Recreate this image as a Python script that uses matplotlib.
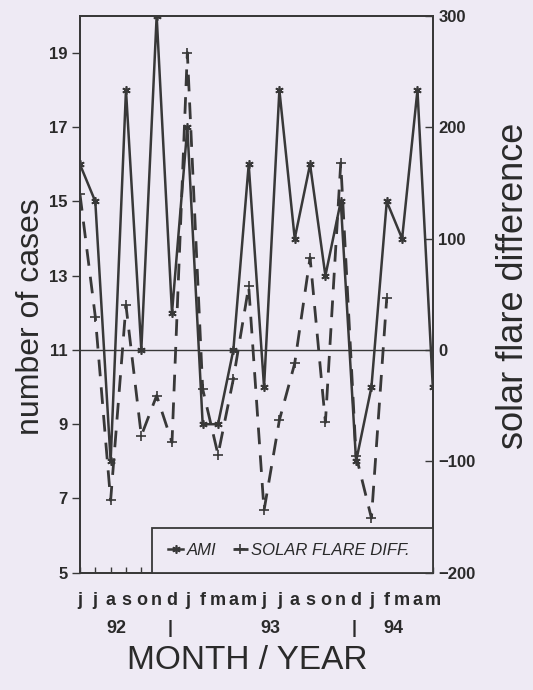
import matplotlib
matplotlib.use('Agg')
import matplotlib.pyplot as plt
import matplotlib.transforms as mtransforms
from matplotlib.patches import Rectangle
import numpy as np

# 데이터 (1992.6 ~ 1994.5)
months = ['j', 'j', 'a', 's', 'o', 'n', 'd', 'j', 'f', 'm', 'a', 'm',
          'j', 'j', 'a', 's', 'o', 'n', 'd', 'j', 'f', 'm', 'a', 'm']
ami = [16, 15, 8, 18, 11, 20, 12, 17, 9, 9, 11, 16,
       10, 18, 14, 16, 13, 15, 8, 10, 15, 14, 18, 10]
# solar flare difference: 1992.6 ~ 1994.2
solar = [140, 30, -135, 40, -77, -41, -83, 267, -35, -94, -26, 57,
         -144, -63, -12, 83, -65, 168, -95, -151, 47]
years = ['92', '|', '93', '|', '94']
year_pos = [2.35, 5.9, 12.4, 17.85, 20.4]

bg = '#eeeaf4'
ink = '#383838'
txt = '#2a2a2a'
plt.rcParams['font.family'] = ['Liberation Sans', 'DejaVu Sans']

fig = plt.figure(figsize=(5.33, 6.9), dpi=100, facecolor=bg)
ax = fig.add_axes([0.150, 0.170, 0.662, 0.807])
ax.set_facecolor(bg)
ax2 = ax.twinx()

x = np.arange(len(ami))
xs = np.arange(len(solar))

ax.plot(x, ami, color=ink, lw=1.8, marker=(6, 2, 0), ms=6, mew=1.2,
        label='AMI', zorder=3)
ax2.plot(xs, solar, color=ink, lw=2.0, dashes=(6, 4), marker='+', ms=7,
         mew=1.2, label='SOLAR FLARE DIFF.', zorder=3)
ax2.axhline(0, color=ink, lw=1.0)

ax.set_xlim(0, len(ami) - 1)
ax.set_ylim(5, 20)
ax2.set_ylim(-200, 300)

ax.set_yticks([5, 7, 9, 11, 13, 15, 17, 19])
ax2.set_yticks([-200, -100, 0, 100, 200, 300])
ax.set_xticks(x)
ax.set_xticklabels(months)

for a in (ax, ax2):
    for s in a.spines.values():
        s.set_color(ink)
        s.set_linewidth(1.3)

ax.tick_params(axis='y', direction='out', length=6, width=1, colors=ink,
               labelsize=12, pad=3)
ax2.tick_params(axis='y', direction='in', length=6, width=1, colors=ink,
                labelsize=12, pad=4)
ax.tick_params(axis='x', direction='in', length=4, width=1, colors=ink,
               labelsize=13, pad=14)
for t in ax.get_xticklabels() + ax.get_yticklabels() + ax2.get_yticklabels():
    t.set_fontweight('bold')
    t.set_color(txt)

ax.set_ylabel('number of cases', fontsize=23, color=txt)
ax.yaxis.set_label_coords(-0.095, 0.46)
ax2.set_ylabel('solar flare difference', fontsize=26, color=txt)
ax2.yaxis.set_label_coords(1.18, 0.515)

trans = mtransforms.blended_transform_factory(ax.transData, ax.transAxes)
for p, lab in zip(year_pos, years):
    ax.text(p, -0.10, lab, transform=trans, ha='center', va='center',
            fontsize=13, fontweight='bold', color=txt)

fig.text(0.464, 0.043, 'MONTH / YEAR', ha='center', va='center',
         fontsize=24, color=txt)

# 범례 상자
box_x0 = 0.204
box_h = 0.081
ax2.add_patch(Rectangle((box_x0, 0), 1 - box_x0, box_h, transform=ax2.transAxes,
                        facecolor=bg, edgecolor=ink, lw=1.3, zorder=4))
h1, l1 = ax.get_legend_handles_labels()
h2, l2 = ax2.get_legend_handles_labels()
leg = ax2.legend(h1 + h2, l1 + l2, loc='center',
                 bbox_to_anchor=((1 + box_x0) / 2 - 0.01, box_h / 2), ncol=2,
                 frameon=False, handlelength=0.9, handletextpad=0.2,
                 columnspacing=1.0, borderpad=0,
                 prop={'style': 'italic', 'size': 12})
leg.set_zorder(5)
for t in leg.get_texts():
    t.set_color(txt)

fig.savefig('out.png', dpi=100, facecolor=bg)
